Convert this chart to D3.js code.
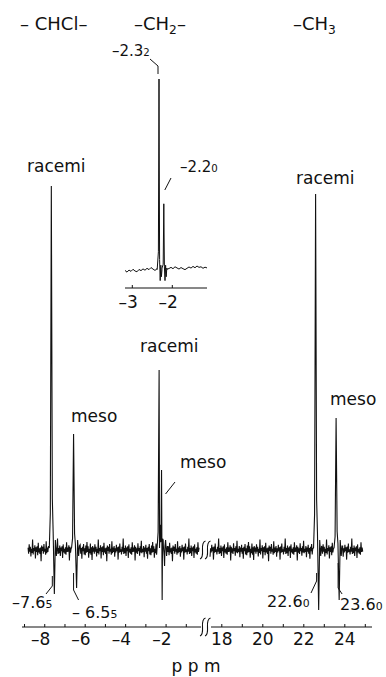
<!DOCTYPE html>
<html>
<head>
<meta charset="utf-8">
<script src="https://cdnjs.cloudflare.com/ajax/libs/d3/7.8.5/d3.min.js"></script>
<style>
  body { margin: 0; background: #fff; }
  svg { display: block; font-family: "DejaVu Sans", sans-serif; fill: #111; }
</style>
</head>
<body>
<div class="chart"></div>
<script>
// peaks of the main trace: shift (ppm), height and the dip under the baseline
var peakShift = [-7.65, -6.55, -2.32, -2.20, 22.60, 23.60];
var peakHeight = [91, 29, 45, 20, 89, 33];
var peakDip = [-11, -9.5, -12.5, -4, -15, -12.5];

// inset (-CH2- region, expanded)
var insetShift = [-2.32, -2.20];
var insetHeight = [100, 35];

var tickLabels = [-8, -6, -4, -2, 18, 20, 22, 24];
var insetTicks = [-3, -2];

// baseline noise
var noise = [0.6, -0.9, 1.4, -0.4, 0.8, -1.6, 0.3, -0.7, 2.6, -1.1, 0.5, -0.3, 1.2, -2.1, 0.7, -0.5,
    0.9, -1.3, 1.8, -0.6, 0.4, -1.0, 0.6, -2.8, 1.1, -0.2, 0.8, -0.9, 1.5, -0.4, 0.3, -1.2, 2.2,
    -0.8, 0.6, -0.5, 1.0, -1.7, 0.4, -0.6, 1.3, -0.3, 0.7, -2.4, 0.9, -0.7, 1.6, -0.5, 0.2, -1.1,
    0.8, -0.4, 2.9, -1.0, 0.5, -0.8, 1.1, -1.5, 0.6, -0.3, 0.9, -2.0, 1.4, -0.6, 0.3, -0.9, 0.7,
    -1.2, 1.9, -0.5, 0.6, -0.4, 1.2, -2.6, 0.8, -0.7, 0.4, -1.0, 1.7, -0.3, 0.5, -1.4, 0.9, -0.6,
    2.3, -0.8, 0.3, -0.5, 1.0, -1.8, 0.6, -0.4, 1.3, -0.9, 0.5, -2.2, 0.8, -0.3, 1.5, -1.1,
    0.4, -1.3, 1.1, -0.7, 2.0, -0.5, 0.9, -1.9, 0.3, -0.8, 1.6, -1.2, 0.7, -2.5, 1.0, -0.4];
var insetNoise = [0.3, -0.6, 0.5, -0.2, 0.9, 0.0, -0.4, 0.8, 0.2, 1.1, 0.4, 1.4, 0.7, 1.8, 1.0,
    0.3, 1.2, 2.0, 1.5, 1.1, 1.6, 0.9, 1.3, 1.9, 1.2, 2.2, 1.6, 1.0, 1.8, 1.2, 0.7, 1.4, 2.1,
    1.5, 2.4, 1.7, 2.6, 1.9, 2.2, 1.4, 2.0, 1.6];

var width = 386;
var height = 677;

var svg = d3.select('.chart')
    .append('svg')
    .attr('width', width)
    .attr('height', height);

/**
 * scales: one broken ppm axis (left part -9..0, right part 17..25)
 */
var x = d3.scaleLinear()
    .domain([-9.1, -0.15, 17.4, 25.4])
    .range([22, 203, 209, 373]);
var y = d3.scaleLinear()
    .domain([0, 100])
    .range([550, 150]);

var xi = d3.scaleLinear()
    .domain([-3.17, -1.12])
    .range([125, 207]);
var yi = d3.scaleLinear()
    .domain([0, 100])
    .range([271, 79]);

// build a trace segment: noise on the baseline, peaks put in where they sit
function trace(from, to, offset) {
    var pts = [];
    var step = 0.028;
    var n = Math.round((to - from) / step);
    for (var i = 0; i <= n; i++) {
        var p = from + i * step;
        if (peakShift.some(s => p > s - 0.12 && p < s + 0.3)) continue;
        pts.push([p, noise[(i + offset) % noise.length]]);
    }
    peakShift.forEach(function(s, k) {
        if (s < from || s > to) return;
        var h = peakHeight[k], d = peakDip[k];
        pts.push([s - 0.1, 0.5], [s - 0.05, 0.1 * h], [s, h], [s + 0.05, 0.14 * h],
            [s + 0.09, 0.05 * h], [s + 0.15, d], [s + 0.2, 2.5], [s + 0.25, -1.5], [s + 0.29, 1]);
    });
    return pts.sort((a, b) => a[0] - b[0]);
}

function insetTrace() {
    var pts = [];
    insetNoise.forEach(function(v, i) {
        var p = -3.17 + i * 0.05;
        if (insetShift.some(s => p > s - 0.05 && p < s + 0.08)) return;
        pts.push([p, v]);
    });
    insetShift.forEach(function(s, k) {
        var h = insetHeight[k];
        pts.push([s - 0.045, 0.8], [s - 0.015, 0.1 * h], [s, h], [s + 0.015, 0.06 * h],
            [s + 0.03, -5], [s + 0.045, 3], [s + 0.06, -3], [s + 0.075, 1.5]);
    });
    return pts.sort((a, b) => a[0] - b[0]);
}

var line = d3.line().x(d => x(d[0])).y(d => y(d[1]));
var lineInset = d3.line().x(d => xi(d[0])).y(d => yi(d[1]));

svg.append('path')
    .attr('d', line(trace(-8.8, -0.35, 0)))
    .attr('fill', 'none')
    .attr('stroke', '#111')
    .attr('stroke-width', 1.1);
svg.append('path')
    .attr('d', line(trace(17.45, 24.9, 37)))
    .attr('fill', 'none')
    .attr('stroke', '#111')
    .attr('stroke-width', 1.1);

svg.append('path')
    .attr('d', lineInset(insetTrace()))
    .attr('fill', 'none')
    .attr('stroke', '#111')
    .attr('stroke-width', 1);

// break mark (two little s-curves)
function breakMark(cx, cy) {
    [-3, 2].forEach(function(dx) {
        svg.append('path')
            .attr('d', `M${cx + dx - 3},${cy + 9} q 3,-1 2.5,-9 q -0.5,-8 3,-9`)
            .attr('fill', 'none')
            .attr('stroke', '#111')
            .attr('stroke-width', 1.1);
    });
}
breakMark(206, y(0));

/**
 * x axis
 */
var axisY = 627;
var minorTicks = d3.range(-9, 0).concat(d3.range(18, 26));
var xAxis = d3.axisBottom(x)
    .tickValues(minorTicks)
    .tickSize(-3)
    .tickPadding(6)
    .tickFormat(d => tickLabels.indexOf(d) >= 0 ? (d < 0 ? '\u2013' + (-d) : d) : '');
var gx = svg.append('g')
    .attr('transform', `translate(0, ${axisY})`)
    .call(xAxis);
gx.select('.domain').remove();
gx.selectAll('line').attr('stroke', '#111');
gx.selectAll('text')
    .attr('font-size', 17)
    .attr('font-family', '"DejaVu Sans", sans-serif')
    .attr('fill', '#111')
    .attr('text-anchor', d => d < 0 ? 'end' : 'middle')
    .attr('dx', d => d < 0 ? 5.5 : 0);

svg.append('line').attr('x1', 22).attr('x2', 201).attr('y1', axisY).attr('y2', axisY)
    .attr('stroke', '#111');
svg.append('line').attr('x1', 211).attr('x2', 372).attr('y1', axisY).attr('y2', axisY)
    .attr('stroke', '#111');
breakMark(206, axisY);

svg.append('text')
    .attr('x', 196)
    .attr('y', 672)
    .attr('text-anchor', 'middle')
    .attr('font-size', 17)
    .text('p p m');

/**
 * inset axis
 */
var insetAxisY = 288;
var gi = svg.append('g')
    .attr('transform', `translate(0, ${insetAxisY})`)
    .call(d3.axisBottom(xi)
        .tickValues(insetTicks)
        .tickSize(-3)
        .tickPadding(8)
        .tickFormat(d => '\u2013' + (-d)));
gi.select('.domain').remove();
gi.selectAll('line').attr('stroke', '#111');
gi.selectAll('text')
    .attr('font-size', 17)
    .attr('font-family', '"DejaVu Sans", sans-serif')
    .attr('fill', '#111')
    .attr('text-anchor', 'end')
    .attr('dx', 5.5);
svg.append('line').attr('x1', 125).attr('x2', 207).attr('y1', insetAxisY).attr('y2', insetAxisY)
    .attr('stroke', '#111');

/**
 * labels
 */
function label(txt, sub, px, py, size, subDy) {
    var t = svg.append('text')
        .attr('x', px)
        .attr('y', py)
        .attr('font-size', size)
        .text(txt);
    if (sub) {
        t.append('tspan').attr('font-size', size * 0.68).attr('dy', subDy || 0).text(sub);
    }
    return t;
}

function leader(pts) {
    svg.append('path')
        .attr('d', d3.line()(pts))
        .attr('fill', 'none')
        .attr('stroke', '#111')
        .attr('stroke-width', 1);
}

// group headings
label('\u2013 CHCl\u2013', null, 20, 30, 18);
var ch2 = label('\u2013CH', '2', 134, 30, 18, 4);
ch2.append('tspan').attr('dy', -4).text('\u2013');
label('\u2013CH', '3', 293, 30, 18, 4);

// inset peak values
label('\u20132.3', '2', 112, 56, 15, 0);
leader([[150, 59], [xi(insetShift[0]) - 1, 66], [xi(insetShift[0]) - 1, 74]]);
label('\u20132.2', '0', 180, 172, 15, 0);
leader([[171, 178], [xi(insetShift[1]) + 1, 190]]);

// racemi / meso
label('racemi', null, 27, 172, 17);
label('meso', null, 71, y(peakHeight[1]) - 12, 17);
label('racemi', null, 140, 352, 17);
label('meso', null, 180, 468, 17);
leader([[175, 482], [x(peakShift[3]) + 4, 494]]);
label('racemi', null, 296, 184, 17);
label('meso', null, 330, 405, 17);

// chemical shifts under the trace
label('\u20137.6', '5', 12, 608, 16, 0);
leader([[46, 594], [x(peakShift[0]) + 1, 586], [x(peakShift[0]) + 1, 576]]);
label('\u2013 6.5', '5', 72, 618, 16, 0);
leader([[x(peakShift[1]), 573], [x(peakShift[1]), 590], [x(peakShift[1]) + 5, 600]]);
label('22.6', '0', 267, 607, 16, 0);
leader([[311, 593], [x(peakShift[4]) + 1, 581], [x(peakShift[4]) + 1, 573]]);
label('23.6', '0', 340, 610, 16, 0);
leader([[x(peakShift[5]) + 2, 563], [x(peakShift[5]) + 2, 588], [x(peakShift[5]) + 6, 594]]);
</script>
</body>
</html>
